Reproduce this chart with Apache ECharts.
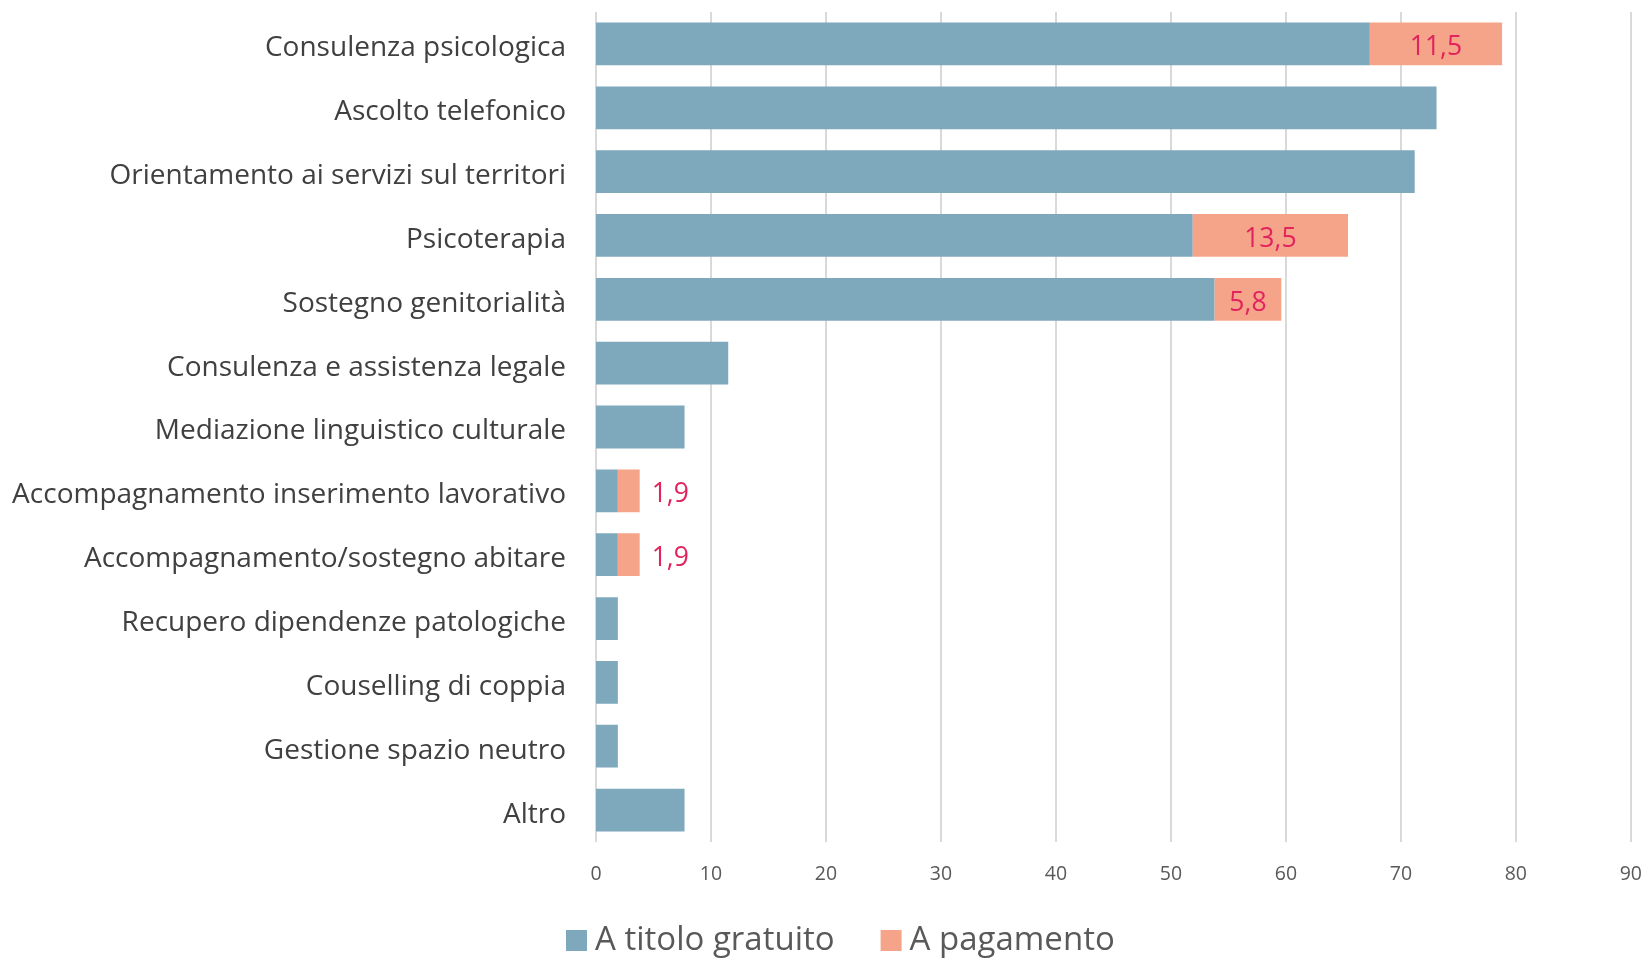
<!DOCTYPE html>
<html><head><meta charset="utf-8">
<script src="https://cdn.jsdelivr.net/npm/echarts@6/dist/echarts.min.js"></script>
<style>html,body{margin:0;padding:0;background:#fff}#c{width:1645px;height:958px}</style>
</head><body><div id="c"></div>
<script>
const categories = ["Consulenza psicologica","Ascolto telefonico","Orientamento ai servizi sul territori","Psicoterapia","Sostegno genitorialità","Consulenza e assistenza legale","Mediazione linguistico culturale","Accompagnamento inserimento lavorativo","Accompagnamento/sostegno abitare","Recupero dipendenze patologiche","Couselling di coppia","Gestione spazio neutro","Altro"];
const gratuito = [67.3,73.1,71.2,51.9,53.8,11.5,7.7,1.9,1.9,1.9,1.9,1.9,7.7];
const pagamento = [11.5,null,null,13.5,5.8,null,null,1.9,1.9,null,null,null,null];
const xTicks = [0,10,20,30,40,50,60,70,80,90];

const FONT = "Open Sans";
const chart = echarts.init(document.getElementById('c'));
chart.setOption({
  animation:false,
  textStyle:{fontFamily:FONT},
  grid:{left:596,right:14,top:12,bottom:116,containLabel:false},
  legend:{top:919,left:561,itemWidth:21,itemHeight:21,itemGap:46,icon:'rect',
    textStyle:{fontSize:33,color:'#595959',fontFamily:FONT,padding:[0,0,0,3]},
    data:['A titolo gratuito','A pagamento']},
  xAxis:{type:'value',min:0,max:90,interval:10,
    axisLine:{show:false},axisTick:{show:false},
    splitLine:{lineStyle:{color:'#D9D9D9',width:2}},
    axisLabel:{fontSize:19.5,color:'#595959',margin:22,fontFamily:FONT,
      formatter:v=>xTicks.includes(v)?String(v):''}},
  yAxis:{type:'category',inverse:true,data:categories,
    axisLine:{show:false},axisTick:{show:false},
    axisLabel:{margin:30,formatter:v=>'{a|'+v+'}',
      rich:{a:{fontSize:28,color:'#404040',fontFamily:FONT,padding:[9,0,0,0]}}}},
  series:[
    {name:'A titolo gratuito',type:'bar',stack:'s',barCategoryGap:'33%',
      itemStyle:{color:'#7EA8BC'},data:gratuito},
    {name:'A pagamento',type:'bar',stack:'s',
      itemStyle:{color:'#F5A48A'},
      label:{show:true,position:'inside',
        formatter:p=>p.value==null?'':'{a|'+String(p.value).replace('.',',')+'}',
        rich:{a:{fontSize:26.5,color:'#E0245E',fontFamily:FONT,padding:[8,0,0,0]}}},
      data:pagamento.map(v=>v!=null&&v<3?{value:v,label:{position:'right',distance:12}}:v)}
  ]
});
</script></body></html>
